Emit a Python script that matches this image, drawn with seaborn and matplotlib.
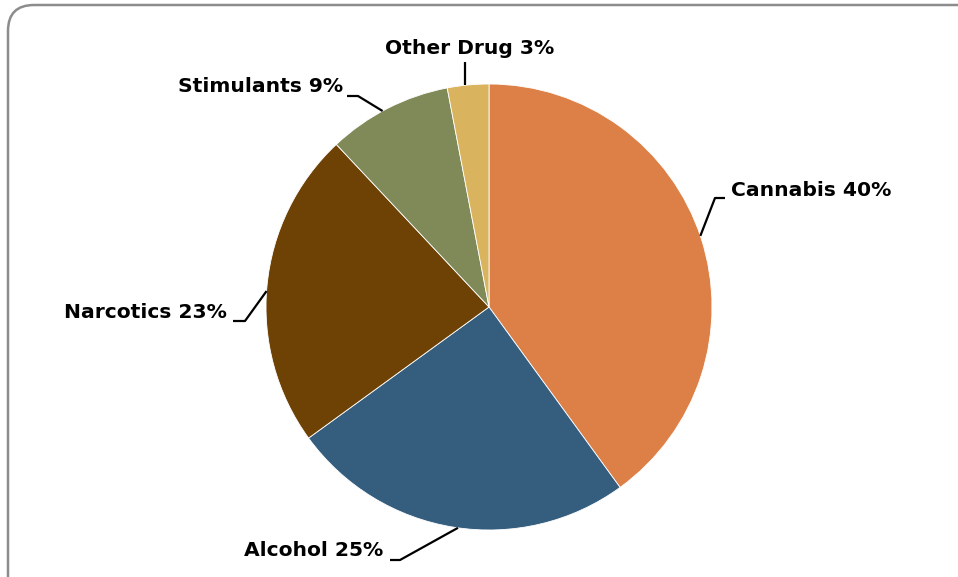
import numpy as np
import matplotlib
matplotlib.use("Agg")
import matplotlib.pyplot as plt
from matplotlib.patches import FancyBboxPatch
import seaborn as sns

categories = ["Cannabis", "Alcohol", "Narcotics", "Stimulants", "Other Drug"]
values = [40, 25, 23, 9, 3]
colors = ["#DD8047", "#355E7E", "#6E4204", "#7F8A58", "#D9B35E"]

sns.set_theme(style="white")
plt.rcParams['font.family'] = ['DejaVu Sans']

W, H = 958, 577
cx, cy, R = 489, 307, 223
fig = plt.figure(figsize=(W / 100, H / 100), dpi=100)

# border axes in pixel units
bax = fig.add_axes([0, 0, 1, 1])
bax.set_xlim(0, W)
bax.set_ylim(H, 0)
bax.axis('off')
border = FancyBboxPatch((8, 5), 985 - 8, 605 - 5,
                        boxstyle="round,pad=0,rounding_size=26",
                        facecolor='none', edgecolor='#8C8C8C', linewidth=1.8,
                        clip_on=False)
bax.add_patch(border)

ax = fig.add_axes([0, 0, 1, 1])
wedges, _ = ax.pie(values, colors=colors, startangle=90, counterclock=False,
                   radius=1.0, wedgeprops=dict(edgecolor='white', linewidth=0.6))
ax.set_xlim(-cx / R, (W - cx) / R)
ax.set_ylim(-(H - cy) / R, cy / R)
ax.set_aspect('equal')
ax.axis('off')

layout = {
    "Cannabis":   dict(text=(731, 191), ha='left',   pts=[(725, 198), (715, 198)], dang=-0.6),
    "Alcohol":    dict(text=(383, 551), ha='right',  pts=[(390, 560), (400, 560)], dang=-1),
    "Narcotics":  dict(text=(227, 313), ha='right',  pts=[(233, 321), (245, 321)], dang=-1.3),
    "Stimulants": dict(text=(343, 87),  ha='right',  pts=[(347, 96), (358, 96)], dang=-1.5),
    "Other Drug": dict(text=(470, 48),  ha='center', pts=[(465, 62)], dang=1.3),
}

def px(p):
    return ((p[0] - cx) / R, (cy - p[1]) / R)

for w, cat, v in zip(wedges, categories, values):
    L = layout[cat]
    mid = np.deg2rad((w.theta1 + w.theta2) / 2 - L['dang'])
    edge = (np.cos(mid), np.sin(mid))
    pts = [px(p) for p in L['pts']] + [edge]
    if cat == "Other Drug":
        pts = [px(L['pts'][0]), (px(L['pts'][0])[0], edge[1])]
    xs, ys = zip(*pts)
    ax.plot(xs, ys, color='black', lw=1.6, solid_capstyle='butt')
    tx, ty = px(L['text'])
    ax.text(tx, ty, f"{cat} {v}%", ha=L['ha'], va='center', fontsize=14.6,
            fontweight='bold', color='black')

fig.savefig("out.png", dpi=100)
